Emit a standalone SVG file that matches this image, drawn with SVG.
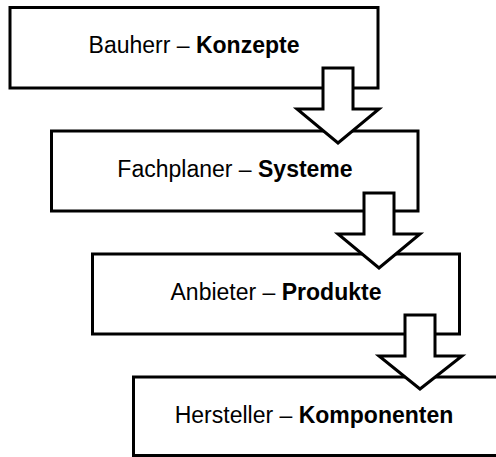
<svg xmlns="http://www.w3.org/2000/svg" width="496" height="457" viewBox="0 0 496 457">
<style>
.box{fill:#fff;stroke:#000;stroke-width:3}
.arr{fill:#fff;stroke:#000;stroke-width:3;stroke-linejoin:miter}
.t{font-family:"Liberation Sans",Arial,sans-serif;font-size:23px;fill:#000;text-anchor:middle}
.b{font-weight:bold}
</style>
<rect width="496" height="457" fill="#fff"/>
<g id="n1"><rect class="box" x="10" y="7.5" width="368" height="80.5"/><text class="t" x="194" y="53">Bauherr – <tspan class="b">Konzepte</tspan></text></g>
<g id="n2"><rect class="box" x="51.5" y="131" width="366.5" height="80"/><text class="t" x="235" y="177">Fachplaner – <tspan class="b">Systeme</tspan></text></g>
<g id="n3"><rect class="box" x="92.5" y="254" width="367" height="80"/><text class="t" x="276" y="300">Anbieter – <tspan class="b">Produkte</tspan></text></g>
<g id="n4"><rect class="box" x="133.5" y="377" width="370" height="78.5"/><text class="t" x="314" y="423">Hersteller – <tspan class="b">Komponenten</tspan></text></g>
<g id="connectors">
<path class="arr" d="M323,68 H353 V109 H379 L338,143 L297,109 H323 Z"/>
<path class="arr" d="M364,193 H394 V234 H420 L379,268 L338,234 H364 Z"/>
<path class="arr" d="M405,315 H435 V356 H462 L420,389 L379,356 H405 Z"/>
</g>
</svg>
